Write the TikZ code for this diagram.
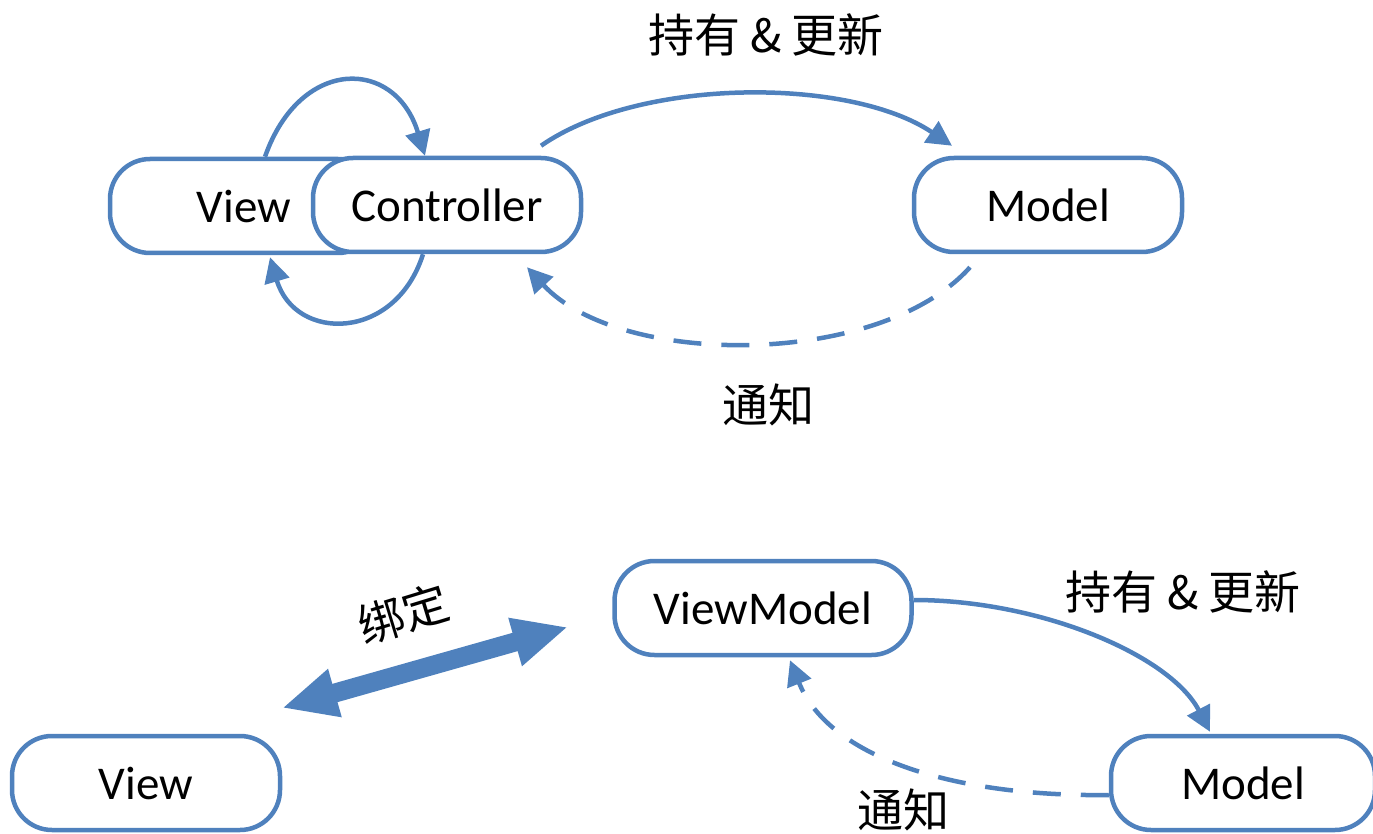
\documentclass[tikz,border=0pt]{standalone}
\usepackage{fontspec}
\setmainfont{Carlito}
\newfontfamily\cjk{Noto Sans CJK SC}
\usetikzlibrary{arrows.meta}
\definecolor{ob}{HTML}{4F81BD}
\begin{document}
\begin{tikzpicture}[x=1pt,y=-1pt,
 box/.style={draw=ob, line width=4.5pt, fill=white, rounded corners=40pt, minimum width=268pt, minimum height=94pt, font=\fontsize{47}{50}\selectfont, inner sep=0pt},
 conn/.style={draw=ob, line width=4.5pt, -{Triangle[length=25pt,width=25pt]}},
 dashconn/.style={conn, dash pattern=on 28pt off 20pt},
 lbl/.style={font=\cjk\fontsize{46}{50}\selectfont, inner sep=0pt},
 bindarrow/.style={draw=ob, line width=19pt, {Triangle[length=55pt,width=46pt]}-{Triangle[length=55pt,width=46pt]}}]
\useasboundingbox (0,0) rectangle (1373,834);
% top row
\node[box] (viewT) at (244,206) {View};
\node[box] (ctrl) at (447,205) {Controller};
\node[box] (modelT) at (1048,205) {Model};
\draw[conn] ([shift={(21,0)}]viewT.north) .. controls (300,57) and (395,57) .. ([shift={(-22,0)}]ctrl.north);
\draw[conn] ([shift={(-24,0)}]ctrl.south) .. controls (395,342) and (295,342) .. ([shift={(26,2)}]viewT.south);
\draw[conn] ([shift={(94,-10)}]ctrl.north) .. controls (640,77) and (850,77) .. ([shift={(-96,-10)}]modelT.north);
\draw[dashconn] ([shift={(-78,13)}]modelT.south) .. controls (880,368) and (620,368) .. ([shift={(80,13)}]ctrl.south);
\node[lbl] (holdT) at (766,35) {持有 \& 更新};
\node[lbl] (notT) at (768,405) {通知};
% bottom row
\node[box, minimum width=297pt] (vm) at (763,608) {ViewModel};
\node[box] (viewB) at (146,783) {View};
\node[box, minimum width=264pt] (modelB) at (1243,783) {Model};
\coordinate (bl) at (282,708);
\coordinate (br) at (568,627);
\draw[bindarrow] (bl) -- (br);
\node[lbl, rotate=17] (bind) at (403,614) {绑定};
\draw[conn] ([shift={(0,-8)}]vm.east) .. controls (1040,600) and (1170,655) .. ([shift={(-33,-2)}]modelB.north);
\draw[dashconn] ([shift={(0,12)}]modelB.west) .. controls (960,797) and (830,760) .. ([shift={(27,3)}]vm.south);
\node[lbl] (notB) at (903,810) {通知};
\node[lbl] (holdB) at (1183,592) {持有 \& 更新};
\end{tikzpicture}
\end{document}
